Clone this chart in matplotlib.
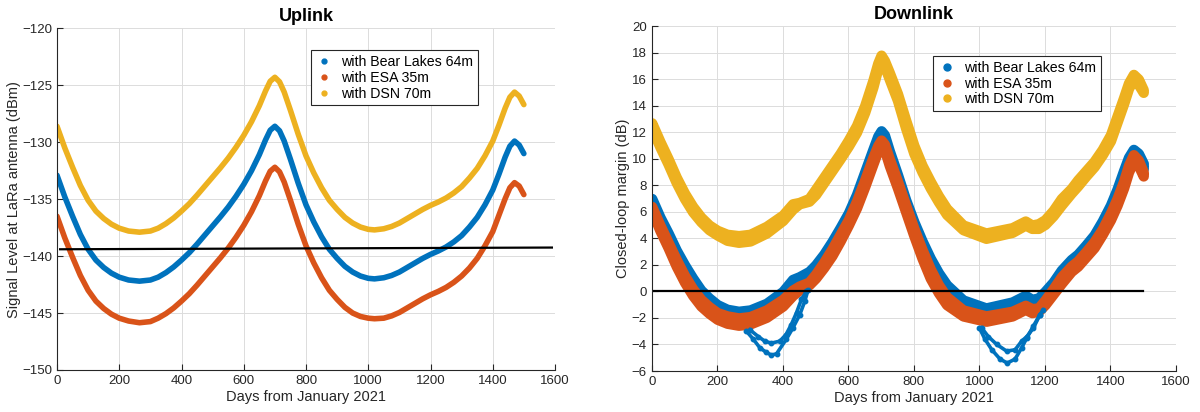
import matplotlib
matplotlib.use("Agg")
import matplotlib.pyplot as plt
from matplotlib.lines import Line2D

plt.rcParams['font.family'] = ['Liberation Sans', 'DejaVu Sans']

C_BLUE = '#0072BD'
C_ORANGE = '#D95319'
C_YELLOW = '#EDB120'
AX_COL = '#262626'

labels = ['with Bear Lakes 64m', 'with ESA 35m', 'with DSN 70m']

# ---------------- Uplink data ----------------
x_up = [0, 25, 50, 75, 100, 125, 150, 175, 200, 230, 265, 300, 325, 350, 375, 400, 425, 450, 475,
        500, 525, 550, 575, 600, 625, 650, 670, 685, 700, 715, 730, 750, 775, 800, 825, 850, 875,
        900, 925, 950, 975, 1000, 1020, 1050, 1075, 1100, 1125, 1150, 1175, 1200, 1225, 1250, 1275,
        1300, 1325, 1350, 1375, 1400, 1420, 1440, 1455, 1470, 1485, 1500]
up_bear = [-132.9, -134.8, -136.5, -138.1, -139.4, -140.35, -141.0, -141.5, -141.85, -142.1,
           -142.2, -142.1, -141.85, -141.45, -140.95, -140.35, -139.7, -138.95, -138.15, -137.35,
           -136.55, -135.7, -134.75, -133.7, -132.5, -131.1, -129.8, -128.95, -128.6, -129.0,
           -129.9, -131.5, -133.6, -135.5, -137.0, -138.3, -139.4, -140.2, -140.9, -141.4,
           -141.75, -141.95, -142.0, -141.9, -141.7, -141.4, -141.0, -140.6, -140.2, -139.85,
           -139.55, -139.2, -138.75, -138.2, -137.45, -136.6, -135.5, -134.2, -132.8, -131.3,
           -130.35, -129.9, -130.25, -131.0]
up_esa = [-136.5, -138.4, -140.1, -141.7, -143.0, -143.95, -144.6, -145.1, -145.45, -145.7,
          -145.85, -145.75, -145.45, -145.05, -144.55, -143.95, -143.3, -142.55, -141.75, -140.95,
          -140.15, -139.3, -138.35, -137.3, -136.1, -134.7, -133.4, -132.55, -132.2, -132.6,
          -133.5, -135.1, -137.2, -139.1, -140.6, -141.9, -143.0, -143.8, -144.5, -145.0,
          -145.3, -145.45, -145.5, -145.45, -145.25, -144.95, -144.55, -144.15, -143.75, -143.4,
          -143.1, -142.75, -142.3, -141.75, -141.05, -140.2, -139.1, -137.85, -136.4, -134.95,
          -134.0, -133.55, -133.85, -134.6]
up_dsn = [-128.6, -130.5, -132.2, -133.8, -135.1, -136.05, -136.7, -137.2, -137.55, -137.8,
          -137.9, -137.8, -137.55, -137.15, -136.65, -136.05, -135.4, -134.65, -133.85, -133.05,
          -132.25, -131.4, -130.45, -129.4, -128.2, -126.8, -125.5, -124.65, -124.3, -124.7,
          -125.6, -127.2, -129.3, -131.2, -132.7, -134.0, -135.1, -135.9, -136.6, -137.1,
          -137.45, -137.65, -137.7, -137.6, -137.4, -137.1, -136.7, -136.3, -135.9, -135.55,
          -135.25, -134.9, -134.45, -133.9, -133.15, -132.3, -131.2, -129.9, -128.5, -127.0,
          -126.05, -125.6, -125.95, -126.7]
up_thr_x = [10, 1590]
up_thr_y = [-139.4, -139.25]

# ---------------- Downlink data (band upper / lower edges) ----------------
x_dn = [0, 25, 50, 75, 100, 125, 150, 175, 200, 230, 265, 300, 350, 400, 430, 450, 480, 500, 525,
        550, 575, 600, 625, 650, 675, 690, 700, 710, 725, 750, 775, 800, 825, 850, 875, 900, 950,
        1020, 1100, 1140, 1160, 1180, 1200, 1225, 1250, 1280, 1300, 1325, 1350, 1375, 1400, 1420,
        1440, 1455, 1470, 1485, 1500]
dn_dsn_hi = [13.1, 11.7, 10.4, 9.0, 7.8, 6.8, 6.0, 5.4, 5.0, 4.7, 4.6, 4.7, 5.3, 6.15, 7.0, 7.1,
             7.4, 8.1, 9.0, 9.9, 10.8, 11.8, 12.9, 14.4, 16.3, 17.6, 18.2, 17.8, 16.9, 15.3, 13.3,
             11.4, 9.9, 8.7, 7.6, 6.65, 5.4, 4.8, 5.2, 5.7, 5.4, 5.5, 5.8, 6.5, 7.4, 8.15, 8.8,
             9.5, 10.2, 11.1, 12.2, 13.6, 15.0, 16.1, 16.75, 16.4, 15.6]
dn_dsn_lo = [11.9, 10.5, 9.2, 7.8, 6.6, 5.6, 4.85, 4.25, 3.85, 3.45, 3.3, 3.4, 4.0, 4.95, 5.8, 6.2,
             6.4, 6.9, 7.8, 8.7, 9.6, 10.55, 11.6, 13.1, 15.0, 16.4, 17.0, 16.6, 15.6, 14.0, 11.9,
             10.0, 8.6, 7.4, 6.35, 5.4, 4.25, 3.6, 4.05, 4.6, 4.35, 4.35, 4.65, 5.3, 6.1, 7.0,
             7.55, 8.3, 9.0, 9.9, 10.95, 12.35, 13.75, 14.9, 15.6, 15.2, 14.6]
dn_bear_hi = [7.4, 6.0, 4.8, 3.5, 2.4, 1.4, 0.5, -0.1, -0.6, -0.95, -1.1, -1.0, -0.5, 0.4, 1.3,
              1.5, 1.9, 2.4, 3.2, 4.15, 5.2, 6.3, 7.7, 9.4, 11.1, 12.1, 12.5, 12.2, 11.0, 9.2, 7.3,
              5.65, 4.2, 2.9, 1.8, 0.9, -0.25, -0.85, -0.4, 0.1, -0.2, -0.1, 0.4, 1.1, 2.0, 2.8,
              3.2, 3.9, 4.65, 5.7, 6.9, 8.1, 9.5, 10.5, 11.1, 10.8, 10.05]
dn_bear_lo = [6.2, 4.8, 3.6, 2.3, 1.2, 0.2, -0.7, -1.3, -1.8, -2.15, -2.3, -2.2, -1.7, -0.8, 0.1,
              0.3, 0.7, 1.2, 2.0, 2.95, 4.0, 5.1, 6.5, 8.2, 9.9, 10.9, 11.3, 11.0, 9.8, 8.0, 6.1,
              4.45, 3.0, 1.7, 0.6, -0.3, -1.45, -2.05, -1.6, -1.1, -1.4, -1.3, -0.8, -0.1, 0.8,
              1.6, 2.0, 2.7, 3.45, 4.5, 5.7, 6.9, 8.3, 9.3, 9.9, 9.6, 8.85]
dn_esa_hi = [6.8, 5.4, 4.1, 2.8, 1.6, 0.6, -0.2, -0.75, -1.2, -1.45, -1.6, -1.5, -1.0, -0.2, 0.5,
             0.8, 1.1, 1.7, 2.6, 3.6, 4.7, 5.8, 7.2, 8.8, 10.5, 11.4, 11.8, 11.5, 10.4, 8.7, 6.9,
             5.15, 3.55, 2.1, 0.9, 0.0, -1.0, -1.45, -1.1, -0.65, -0.9, -0.85, -0.25, 0.6, 1.5,
             2.3, 2.7, 3.4, 4.15, 5.1, 6.3, 7.4, 8.7, 9.9, 10.7, 10.3, 9.4]
dn_esa_lo = [5.7, 4.2, 2.9, 1.5, 0.3, -0.7, -1.5, -2.05, -2.5, -2.8, -2.95, -2.85, -2.35, -1.5,
             -0.7, -0.3, 0.1, 0.6, 1.4, 2.3, 3.4, 4.6, 5.9, 7.5, 9.2, 10.2, 10.6, 10.3, 9.1, 7.4,
             5.6, 3.8, 2.1, 0.6, -0.5, -1.4, -2.25, -2.65, -2.25, -1.75, -2.0, -1.9, -1.4, -0.6,
             0.2, 1.1, 1.5, 2.2, 2.9, 3.9, 5.0, 6.1, 7.4, 8.6, 9.4, 9.1, 8.3]

# Bear Lakes low branches (outliers)
dip1a_x = [300, 325, 345, 365, 391, 410, 426, 442, 457, 472]
dip1a_y = [-2.9, -3.4, -3.75, -3.9, -3.75, -3.25, -2.5, -1.6, -0.6, 0.0]
dip1b_x = [289, 310, 330, 350, 365, 381, 411, 431, 452, 467, 477]
dip1b_y = [-3.0, -3.6, -4.25, -4.6, -4.8, -4.7, -3.6, -2.75, -1.75, -0.75, 0.1]
dip2a_x = [1007, 1027, 1053, 1083, 1109, 1129, 1145, 1165, 1185, 1195]
dip2a_y = [-2.75, -3.4, -4.0, -4.5, -4.4, -3.75, -3.4, -2.75, -1.75, -1.4]
dip2b_x = [1000, 1017, 1038, 1063, 1085, 1109, 1129, 1145, 1165, 1185]
dip2b_y = [-2.75, -3.6, -4.4, -5.1, -5.4, -5.1, -4.25, -3.5, -2.6, -1.75]
dn_thr_x = [0, 1500]
dn_thr_y = [0, 0]

x_ticks = list(range(0, 1601, 200))
up_yticks = list(range(-150, -119, 5))
dn_yticks = list(range(-6, 21, 2))

fig = plt.figure(figsize=(12, 4.12), dpi=100)
ax1 = fig.add_axes([57/1200, 1-370/412, (555-57)/1200, (370-28.3)/412])
ax2 = fig.add_axes([651.7/1200, 1-371/412, (1176-651.7)/1200, (371-26)/412])


def style(ax):
    for s in ['top', 'right']:
        ax.spines[s].set_visible(False)
    for s in ['left', 'bottom']:
        ax.spines[s].set_color(AX_COL)
        ax.spines[s].set_linewidth(0.8)
    ax.tick_params(direction='in', length=4, width=0.8, colors=AX_COL, labelsize=9.5)
    ax.grid(True, color='#dcdcdc', linewidth=0.7)
    ax.set_axisbelow(True)


# Uplink
style(ax1)
kw = dict(lw=4.0, solid_joinstyle='round', solid_capstyle='round')
ax1.plot(x_up, up_bear, color=C_BLUE, **kw)
ax1.plot(x_up, up_esa, color=C_ORANGE, **kw)
ax1.plot(x_up, up_dsn, color=C_YELLOW, **kw)
ax1.plot(up_thr_x, up_thr_y, color='black', lw=1.6)
ax1.set_xlim(0, 1600)
ax1.set_ylim(-150, -120)
ax1.set_xticks(x_ticks)
ax1.set_yticks(up_yticks)
ax1.set_title('Uplink', fontsize=13, fontweight='bold', pad=5)
ax1.set_xlabel('Days from January 2021', fontsize=10.5, color=AX_COL, labelpad=2)
ax1.set_ylabel('Signal Level at LaRa antenna (dBm)', fontsize=10.5, color=AX_COL, labelpad=1)

# Downlink: each band is the visible extent of a dense dot cloud; the thick round
# edge stands in for the dot size, so the fill is inset by the dot radius.
style(ax2)
DOT_R = 0.4    # dot radius in dB units (visual)
EDGE_LW = 7.5  # points, ~ dot diameter


def band(lo, hi, color):
    ax2.fill_between(x_dn, [v + DOT_R for v in lo], [v - DOT_R for v in hi],
                     color=color, edgecolor=color, lw=EDGE_LW, joinstyle='round')


band(dn_bear_lo, dn_bear_hi, C_BLUE)
for dx, dy in [(dip1a_x, dip1a_y), (dip1b_x, dip1b_y), (dip2a_x, dip2a_y), (dip2b_x, dip2b_y)]:
    ax2.plot(dx, dy, color=C_BLUE, lw=2.6, marker='o', ms=3.2, solid_joinstyle='round')
band(dn_esa_lo, dn_esa_hi, C_ORANGE)
band(dn_dsn_lo, dn_dsn_hi, C_YELLOW)
ax2.plot(dn_thr_x, dn_thr_y, color='black', lw=1.6)
ax2.set_xlim(0, 1600)
ax2.set_ylim(-6, 20)
ax2.set_xticks(x_ticks)
ax2.set_yticks(dn_yticks)
ax2.set_title('Downlink', fontsize=13, fontweight='bold', pad=5)
ax2.set_xlabel('Days from January 2021', fontsize=10.5, color=AX_COL, labelpad=2)
ax2.set_ylabel('Closed-loop margin (dB)', fontsize=10.5, color=AX_COL, labelpad=1)


def add_legend(ax, anchor, ms):
    handles = [Line2D([], [], ls='none', marker='o', ms=ms, color=c)
               for c in (C_BLUE, C_ORANGE, C_YELLOW)]
    leg = ax.legend(handles, labels, loc='upper left', bbox_to_anchor=anchor, fontsize=10.2,
                    frameon=True, fancybox=False, framealpha=1, edgecolor=AX_COL,
                    handlelength=1.2, handletextpad=0.6, borderpad=0.35, labelspacing=0.12,
                    borderaxespad=0)
    leg.get_frame().set_linewidth(0.8)


add_legend(ax1, (0.51, 0.936), 3.5)
add_legend(ax2, (0.537, 0.913), 5)

fig.savefig('out.png', dpi=100)
